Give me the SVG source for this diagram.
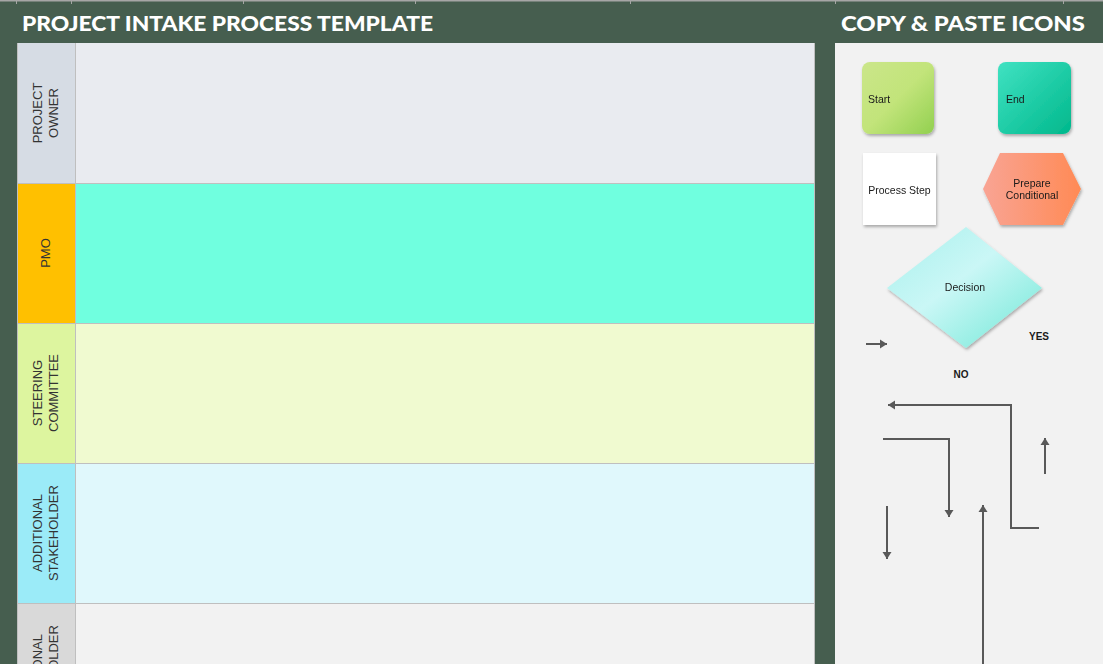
<svg xmlns="http://www.w3.org/2000/svg" width="1103" height="664" viewBox="0 0 1103 664">
<style>
.title{font-family:"Lato","Liberation Sans",sans-serif;font-weight:900;font-size:21px;fill:#FFFFFF}
.lane{font-family:"Liberation Sans",Arial,sans-serif;font-size:13px;fill:#333333}
.icon{font-family:"Liberation Sans",Arial,sans-serif;font-size:10.5px;fill:#1a1a1a}
.yn{font-family:"Liberation Sans",Arial,sans-serif;font-size:10px;font-weight:bold;fill:#1a1a1a}
.sep{stroke:#BFBFBF;stroke-width:1}
.conn{fill:none;stroke:#595959;stroke-width:2}
</style>
<defs>
<linearGradient id="gStart" x1="0" y1="0" x2="1" y2="1"><stop offset="0" stop-color="#CBE68A"/><stop offset="0.5" stop-color="#C2E47A"/><stop offset="1" stop-color="#92D050"/></linearGradient>
<linearGradient id="gEnd" x1="0" y1="0" x2="1" y2="1"><stop offset="0" stop-color="#40E2C2"/><stop offset="1" stop-color="#00B88C"/></linearGradient>
<linearGradient id="gPrep" x1="0" y1="0" x2="1" y2="0"><stop offset="0" stop-color="#F9A494"/><stop offset="1" stop-color="#FF8A55"/></linearGradient>
<linearGradient id="gDec" x1="0" y1="0" x2="1" y2="1"><stop offset="0" stop-color="#A8F0EC"/><stop offset="0.45" stop-color="#CAF7F6"/><stop offset="1" stop-color="#6FE8D6"/></linearGradient>
<filter id="sh" x="-20%" y="-20%" width="140%" height="150%"><feDropShadow dx="1" dy="2" stdDeviation="1.5" flood-color="#000" flood-opacity="0.3"/></filter>
<marker id="ah" markerWidth="8" markerHeight="10" refX="7" refY="5" orient="auto" markerUnits="userSpaceOnUse"><path d="M0,0.5 L7,5 L0,9.5 z" fill="#595959"/></marker>
</defs>

<rect x="0" y="0" width="1103" height="664" fill="#465E4F"/>
<g id="topgrid">
<rect x="0" y="0" width="1103" height="1.5" fill="#A6A6A6"/>
<path d="M16.5,0V4M71.5,0V4M243.5,0V4M415.5,0V4M630.5,0V4M835.5,0V4M1063.5,0V4" stroke="#A6A6A6" stroke-width="1"/>
</g>

<text class="title" x="22" y="31" textLength="411" lengthAdjust="spacingAndGlyphs">PROJECT INTAKE PROCESS TEMPLATE</text>
<text class="title" x="841" y="31" textLength="244" lengthAdjust="spacingAndGlyphs">COPY &amp; PASTE ICONS</text>

<g id="swimlanes">
<g id="lane-owner">
<rect x="17" y="43" width="58" height="140" fill="#D6DCE4"/>
<rect x="75" y="43" width="740" height="140" fill="#E9EBF0"/>
<text class="lane" transform="translate(46,113) rotate(-90)" text-anchor="middle"><tspan x="0" y="-4">PROJECT</tspan><tspan x="0" y="12">OWNER</tspan></text>
</g>
<g id="lane-pmo">
<rect x="17" y="183" width="58" height="140" fill="#FFC000"/>
<rect x="75" y="183" width="740" height="140" fill="#70FFDF"/>
<text class="lane" transform="translate(46,253) rotate(-90)" text-anchor="middle"><tspan x="0" y="4">PMO</tspan></text>
</g>
<g id="lane-steering">
<rect x="17" y="323" width="58" height="140" fill="#DDF59F"/>
<rect x="75" y="323" width="740" height="140" fill="#F0FAD0"/>
<text class="lane" transform="translate(46,393) rotate(-90)" text-anchor="middle"><tspan x="0" y="-4">STEERING</tspan><tspan x="0" y="12">COMMITTEE</tspan></text>
</g>
<g id="lane-additional">
<rect x="17" y="463" width="58" height="140" fill="#9BEBF8"/>
<rect x="75" y="463" width="740" height="140" fill="#E0F8FC"/>
<text class="lane" transform="translate(46,533) rotate(-90)" text-anchor="middle"><tspan x="0" y="-4">ADDITIONAL</tspan><tspan x="0" y="12">STAKEHOLDER</tspan></text>
</g>
<g id="lane-additional-2">
<rect x="17" y="603" width="58" height="61" fill="#D9D9D9"/>
<rect x="75" y="603" width="740" height="61" fill="#F2F2F2"/>
<text class="lane" transform="translate(46,673) rotate(-90)" text-anchor="middle"><tspan x="0" y="-4">ADDITIONAL</tspan><tspan x="0" y="12">STAKEHOLDER</tspan></text>
</g>
<path class="sep" d="M17,183.5H815M17,323.5H815M17,463.5H815M17,603.5H815M75.5,43V664M17.5,43V664M814.5,43V664"/>
</g>

<rect x="835" y="43" width="268" height="621" fill="#F2F2F2"/>

<g id="icon-start" filter="url(#sh)">
<rect x="862" y="62" width="72" height="72" rx="8" fill="url(#gStart)"/>
<text class="icon" x="868" y="103">Start</text>
</g>
<g id="icon-end" filter="url(#sh)">
<rect x="998" y="62" width="73" height="72" rx="8" fill="url(#gEnd)"/>
<text class="icon" x="1006" y="103">End</text>
</g>
<g id="icon-process" filter="url(#sh)">
<rect x="863" y="153" width="73" height="72" fill="#FFFFFF"/>
<text class="icon" x="899.5" y="194" text-anchor="middle">Process Step</text>
</g>
<g id="icon-prepare" filter="url(#sh)">
<polygon points="983,189 1000,153 1063,153 1081,189 1063,225 1000,225" fill="url(#gPrep)"/>
<text class="icon" x="1032" y="187" text-anchor="middle">Prepare</text>
<text class="icon" x="1032" y="199" text-anchor="middle">Conditional</text>
</g>
<g id="icon-decision" filter="url(#sh)">
<polygon points="966,227 1042,288 966,348 887,288" fill="url(#gDec)"/>
<text class="icon" x="965" y="291" text-anchor="middle">Decision</text>
</g>
<text class="yn" x="1039" y="340" text-anchor="middle">YES</text>
<text class="yn" x="961" y="378" text-anchor="middle">NO</text>

<g id="connectors">
<path class="conn" d="M866,344H887" marker-end="url(#ah)"/>
<path class="conn" d="M1039,528H1011V405H888" marker-end="url(#ah)"/>
<path class="conn" d="M883,439H949V517" marker-end="url(#ah)"/>
<path class="conn" d="M1045,474V438" marker-end="url(#ah)"/>
<path class="conn" d="M887,506V559" marker-end="url(#ah)"/>
<path class="conn" d="M983,664V505" marker-end="url(#ah)"/>
</g>
</svg>
